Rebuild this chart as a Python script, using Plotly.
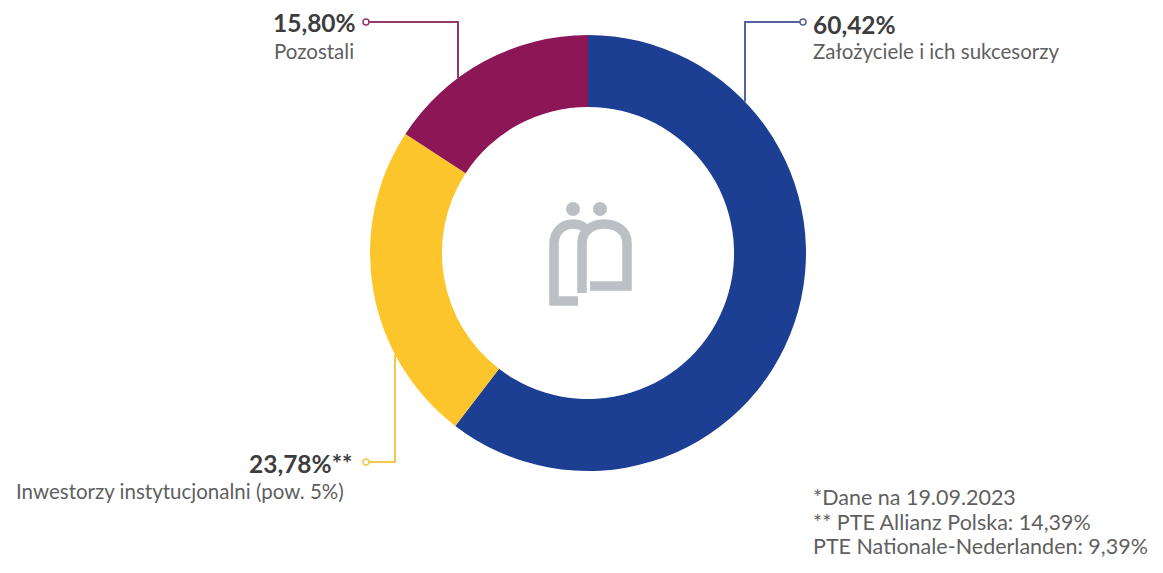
import math
import plotly.graph_objects as go

# Shareholder structure
labels = ["Założyciele i ich sukcesorzy", "Inwestorzy instytucjonalni (pow. 5%)", "Pozostali"]
values = [60.42, 23.78, 15.80]
value_texts = ["60,42%", "23,78%**", "15,80%"]
colors = ["#1c3f94", "#fdc52c", "#8c1656"]
line_colors = ["#56639a", "#f2c94c", "#8e3a6b"]
footnotes = ["*Dane na 19.09.2023", "** PTE Allianz Polska: 14,39%", "PTE Nationale-Nederlanden: 9,39%"]

W, H = 1163, 573
cx, cy, R = 588, 253, 218
hole = 0.67

fig = go.Figure()
fig.add_trace(go.Pie(
    labels=labels, values=values, sort=False, direction="clockwise", rotation=0,
    hole=hole, marker=dict(colors=colors, line=dict(width=0)),
    textinfo="none", showlegend=False,
    domain=dict(x=[(cx - R) / W, (cx + R) / W], y=[(H - cy - R) / H, (H - cy + R) / H]),
))

shapes = []
annotations = []

def edge_y(x, upper):
    d = math.sqrt(R * R - (x - cx) ** 2)
    return cy - d if upper else cy + d

# leader lines: (x of vertical, upper edge?, y of horizontal, x of end circle)
leaders = [
    (745, True, 22, 803),
    (395, False, 462, 366),
    (458, True, 22, 366),
]
for i, (vx, upper, hy, ex) in enumerate(leaders):
    y0 = edge_y(vx, upper)
    step = 3 if ex > vx else -3
    shapes.append(dict(type="path", xref="x", yref="y",
                       path=f"M {vx},{y0:.1f} V {hy} H {ex - step}",
                       line=dict(color=line_colors[i], width=2)))
    shapes.append(dict(type="circle", xref="x", yref="y",
                       x0=ex - 3, x1=ex + 3, y0=hy - 3, y1=hy + 3,
                       line=dict(color=line_colors[i], width=1.5), fillcolor="white"))

# value and label text
pct_font = dict(family="Lato", size=24.5, color="#3d3d3d", weight="bold")
lab_font = dict(family="Lato", size=20.5, color="#5f5f5f")
note_font = dict(family="Lato", size=21.5, color="#5f5f5f")
annotations += [
    dict(x=811, y=24, text=value_texts[0], xanchor="left", font=pct_font),
    dict(x=811, y=51, text=labels[0], xanchor="left", font=lab_font),
    dict(x=354, y=463, text=value_texts[1], xanchor="right", font=pct_font),
    dict(x=346, y=491, text=labels[1], xanchor="right", font=lab_font),
    dict(x=358, y=22, text=value_texts[2], xanchor="right", font=pct_font),
    dict(x=356, y=51, text=labels[2], xanchor="right", font=lab_font),
]
for i, t in enumerate(footnotes):
    annotations.append(dict(x=811, y=497 + 24.5 * i, text=t, xanchor="left", font=note_font))
for a in annotations:
    a.update(xref="x", yref="y", yanchor="middle", showarrow=False)

# center logo
gray = "#bcc0c4"
shapes += [
    dict(type="circle", xref="x", yref="y", x0=566, x1=580, y0=202, y1=216, fillcolor=gray, line=dict(width=0)),
    dict(type="circle", xref="x", yref="y", x0=593, x1=607, y0=202, y1=216, fillcolor=gray, line=dict(width=0)),
    dict(type="path", xref="x", yref="y",
         path="M 578,301 H 554 V 244 C 554,231 563,224 573,224 C 581,224 586,228 588,232",
         line=dict(color=gray, width=9.5)),
    dict(type="path", xref="x", yref="y",
         path="M 582,293 V 243 C 582,231 592,224 604,224 C 617,224 627,231 627,243 V 286 H 590",
         line=dict(color=gray, width=9.5)),
]

fig.update_layout(
    width=W, height=H, margin=dict(l=0, r=0, t=0, b=0),
    paper_bgcolor="white", plot_bgcolor="rgba(0,0,0,0)",
    xaxis=dict(range=[0, W], visible=False, fixedrange=True),
    yaxis=dict(range=[H, 0], visible=False, fixedrange=True),
    shapes=shapes, annotations=annotations,
)
fig.write_html("out.html")
